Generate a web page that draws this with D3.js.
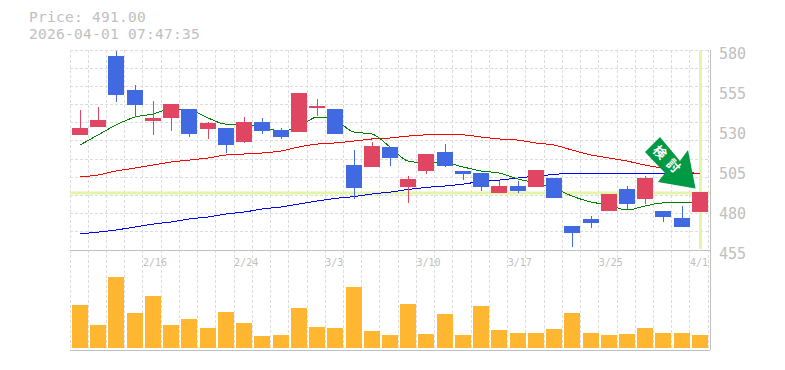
<!DOCTYPE html>
<html>
<head>
<meta charset="utf-8">
<script src="https://cdn.jsdelivr.net/npm/d3@7"></script>
<style>
body { margin: 0; background: #fff; }
text { font-family: "DejaVu Sans Mono", monospace; fill: #c0c0c0; }
</style>
</head>
<body>
<div id="chart"></div>
<script>
// daily data
const dates = ["2/9","2/10","2/12","2/13","2/16","2/17","2/18","2/19","2/20","2/24","2/25","2/26","2/27","3/2","3/3","3/4","3/5","3/6","3/9","3/10","3/11","3/12","3/13","3/16","3/17","3/18","3/19","3/23","3/24","3/25","3/26","3/27","3/30","3/31","4/1"];
const opens = [527,532,576.2,555,535.6,537.5,543.1,530.6,531.2,522.5,535,530,528.7,543.7,543.1,508.1,506.9,519.4,494.4,504.4,516.2,504.4,503.1,490.6,495,494.4,500,470,474.4,479.4,493.1,486.9,479.4,475,478.7];
const highs = [542.5,544.5,579.4,558.1,548.1,546.2,543.1,535,531.2,538.1,537.5,531.2,553.1,549.4,543.1,517.5,522.5,519.4,501.2,515,521.2,504.4,503.1,498.1,498.1,505,500,470,476.2,490,495,501.2,479.4,482.5,491];
const lows = [526.9,531.9,547.5,538.1,527,529.4,525.6,524.4,515.6,521.9,527.5,524.4,528.7,538.7,527.5,486.9,506.9,507.5,484.4,502.5,506.9,498.7,491.9,490.6,490.6,494.4,487.5,456.9,468.7,479.4,480.6,483.7,472.5,469.4,478.7];
const closes = [531.2,536.2,551.9,545.6,537.5,546.2,527.5,534.4,520.6,535,529.4,525.6,553.1,545,527.5,493.7,520,512.5,499.4,515,507.5,502.5,494.4,495,491.9,505,487.5,465.6,471.9,490,483.7,500,475.6,469.4,491];
const volumes = [43,23,71,35,52,23,29,20,36,25,12,13,40,21,20,61,17,13,44,14,34,13,42,18,15,15,19,35,15,13,14,20,15,15,13];
const maShort = [520.6,526.9,533.1,538.1,540,543.1,542.5,537.5,533.7,533.7,531.9,529.4,531.9,538.1,536.2,528.7,527.5,519.4,510.6,509.4,509.4,506.9,504.4,503.1,499.4,496.9,493.7,488.7,485,483.1,480,482.5,484.4,484.4,484.4];
const maMid = [500.6,501.9,504.4,506.2,508.1,510,511.2,512.5,514.4,515,515.6,516.9,519.4,521.2,521.9,523.1,524.4,525,526.2,526.9,526.9,526.9,525.6,524.4,523.7,521.9,520.6,517.5,514.4,512.5,510.6,508.1,506.2,504.4,502.5];
const maLong = [465,466.2,467.5,469.4,471.2,472.5,474.4,475.6,477.5,478.7,480.6,481.9,483.7,485.6,487.2,488.4,490,491.2,492.8,494.1,495,496.2,497.8,498.7,500,501.2,502.2,503.1,503.1,503.1,503.1,503.1,503.1,503.1,503.1];
const priceTicks = [580,555,530,505,480,455];
const labelIdx = [4,9,14,19,24,29,34];
const lastPrice = 491;
const header = ["Price: 491.00","2026-04-01 07:47:35"];

const width = 785, height = 370;
const plotLeft = 70, plotRight = 710, plotTop = 50, priceBottom = 250, volBottom = 348, axisBottom = 350;
const upColor = "#e04562", downColor = "#4169e1", gridColor = "#dcdcdc", axisColor = "#c0c0c0", bandColor = "#e4f5a9";
const monoFont = '"DejaVu Sans Mono", monospace';

const svg = d3.select("#chart").append("svg")
  .attr("width", width)
  .attr("height", height)
  .style("display", "block");

// scales
const x = d3.scaleBand().domain(d3.range(dates.length)).range([plotLeft, 708.2]);
const y = d3.scaleLinear().domain([455,580]).range([priceBottom, plotTop]);
const v = d3.scaleLinear().domain([0,98]).range([volBottom, priceBottom]);
const px = i => Math.round(x(i));
const mid = i => px(i) + 10;

// grid
const grid = svg.append("g").attr("shape-rendering","crispEdges").attr("stroke",gridColor).attr("stroke-dasharray","3,2");
grid.selectAll("line.v")
  .data(d3.range(dates.length + 1))
  .join("line")
  .attr("class","v")
  .attr("x1", i => Math.floor(plotLeft + i*x.step()) + 0.5)
  .attr("x2", i => Math.floor(plotLeft + i*x.step()) + 0.5)
  .attr("y1", plotTop)
  .attr("y2", axisBottom);
grid.selectAll("line.h")
  .data(d3.range(12))
  .join("line")
  .attr("class","h")
  .attr("x1", plotLeft)
  .attr("x2", plotRight)
  .attr("y1", j => Math.floor(plotTop + j*200/11) + 0.5)
  .attr("y2", j => Math.floor(plotTop + j*200/11) + 0.5);

// current price / current day highlight
svg.append("line")
  .attr("x1", plotLeft).attr("x2", plotRight)
  .attr("y1", y(lastPrice)+0.5).attr("y2", y(lastPrice)+0.5)
  .attr("stroke", bandColor).attr("stroke-width", 3);
svg.append("line")
  .attr("x1", mid(34)+0.5).attr("x2", mid(34)+0.5)
  .attr("y1", plotTop+1).attr("y2", priceBottom-1)
  .attr("stroke", bandColor).attr("stroke-width", 3);

// frame
const frame = svg.append("g").attr("stroke",axisColor).attr("shape-rendering","crispEdges");
frame.append("line").attr("x1",plotLeft).attr("x2",plotRight).attr("y1",priceBottom+0.5).attr("y2",priceBottom+0.5);
frame.append("line").attr("x1",plotLeft).attr("x2",plotRight).attr("y1",axisBottom+0.5).attr("y2",axisBottom+0.5);
frame.append("line").attr("x1",plotRight+0.5).attr("x2",plotRight+0.5).attr("y1",plotTop).attr("y2",axisBottom);

// moving averages
const line = d3.line().curve(d3.curveMonotoneX).x((d,i) => mid(i)).y(d => y(d));
[[maLong,"#0000ff"],[maMid,"#ff0000"],[maShort,"#008000"]].forEach(function(s){
  svg.append("path")
    .attr("d", line(s[0]))
    .attr("fill","none")
    .attr("stroke",s[1])
    .attr("stroke-width",1)
    .attr("shape-rendering","crispEdges");
});

// candles
const isUp = i => closes[i] >= opens[i];
const candles = svg.append("g").attr("shape-rendering","crispEdges");
candles.selectAll("line")
  .data(d3.range(dates.length))
  .join("line")
  .attr("x1", i => mid(i))
  .attr("x2", i => mid(i))
  .attr("y1", i => y(highs[i]))
  .attr("y2", i => y(lows[i]))
  .attr("stroke", i => isUp(i) ? upColor : downColor);
candles.selectAll("rect")
  .data(d3.range(dates.length))
  .join("rect")
  .attr("x", i => px(i)+2)
  .attr("width", 16)
  .attr("y", i => y(Math.max(opens[i],closes[i])))
  .attr("height", i => Math.abs(y(opens[i])-y(closes[i])))
  .attr("fill", i => isUp(i) ? upColor : downColor);

// volume
svg.append("g").attr("shape-rendering","crispEdges")
  .selectAll("rect")
  .data(d3.range(dates.length))
  .join("rect")
  .attr("x", i => px(i)+2)
  .attr("width", 16)
  .attr("y", i => v(volumes[i]))
  .attr("height", i => volBottom - v(volumes[i]))
  .attr("fill", "#ffb732");

// axes
const yAxis = svg.append("g")
  .attr("transform", `translate(${plotRight},0)`)
  .call(d3.axisRight(y).tickValues(priceTicks).tickSize(0).tickPadding(9));
yAxis.select(".domain").remove();
yAxis.selectAll("text")
  .attr("dy", 8)
  .style("font-family", monoFont)
  .style("font-size", "15px")
  .style("fill", axisColor);

const xAxis = svg.append("g")
  .attr("transform", `translate(0,${priceBottom})`)
  .call(d3.axisBottom(x).tickValues(labelIdx).tickFormat(i => dates[i]).tickSize(0).tickPadding(0));
xAxis.select(".domain").remove();
xAxis.selectAll("text")
  .attr("x", -x.step()/2)
  .attr("y", 16)
  .attr("dy", 0)
  .attr("text-anchor", "start")
  .style("font-family", monoFont)
  .style("font-size", "10px")
  .style("fill", axisColor);

// header
svg.selectAll("text.head")
  .data(header)
  .join("text")
  .attr("class","head")
  .attr("x", 29)
  .attr("y", (d,i) => 22 + i*17)
  .style("font-size","14.5px")
  .style("letter-spacing","0.27px")
  .text(d => d);

// signal arrow
const arrow = svg.append("g");
arrow.append("path")
  .attr("d","M660,137L645,152L665,173L658,182L695.5,188.5L688,150L680,161Z")
  .attr("fill","#009944");
arrow.append("text")
  .attr("transform","translate(669,161) rotate(45)")
  .attr("text-anchor","middle")
  .attr("dy",5)
  .style("font-family",'"Noto Sans CJK JP"')
  .style("font-weight","700")
  .style("font-size","13px")
  .style("letter-spacing","6px")
  .style("fill","#fff")
  .text("検討");
</script>
</body>
</html>
